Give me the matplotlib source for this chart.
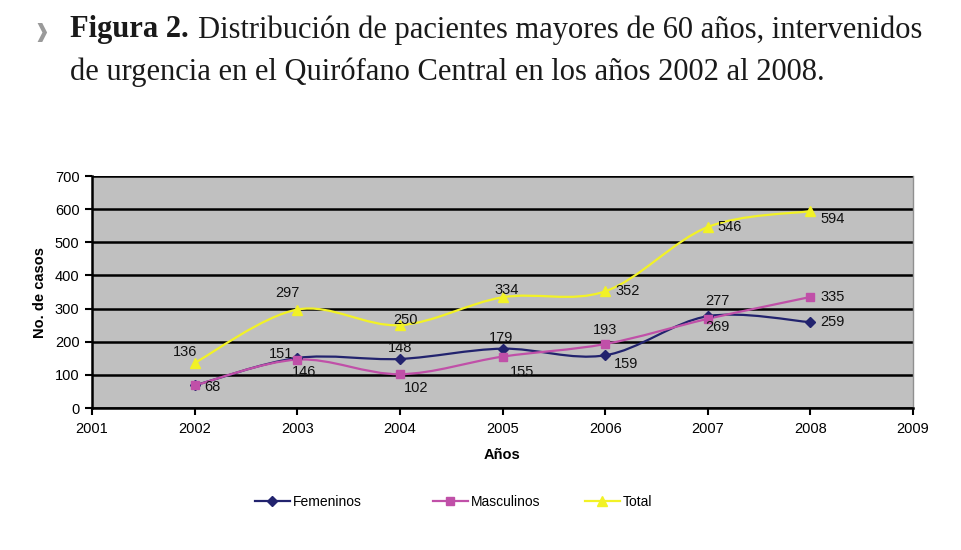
import matplotlib
matplotlib.use("Agg")
import matplotlib.pyplot as plt
from matplotlib.path import Path
from matplotlib.patches import PathPatch
from matplotlib.lines import Line2D
import numpy as np

years = [2002, 2003, 2004, 2005, 2006, 2007, 2008]
femeninos = [68, 151, 148, 179, 159, 277, 259]
masculinos = [68, 146, 102, 155, 193, 269, 335]
total = [136, 297, 250, 334, 352, 546, 594]
series_names = ["Femeninos", "Masculinos", "Total"]
yticks = [0, 100, 200, 300, 400, 500, 600, 700]
xticks = [2001, 2002, 2003, 2004, 2005, 2006, 2007, 2008, 2009]

# label offsets in points (dx, dy); None = no label
off_f = [None, (-12, 3), (0, 8), (-1, 8), (15, -6), (7, 11), (16, 0)]
off_m = [(13, -1), (5, -9), (12, -10), (14, -11), (0, 10), (7, -6), (16, 0)]
off_t = [(-7, 8), (-7, 12), (4, 4), (3, 5), (16, 0), (16, 0), (16, -6)]

C_F = "#22236e"
C_M = "#c050a8"
C_T = "#f2f226"

plt.rcParams["font.family"] = ["Liberation Sans", "DejaVu Sans"]

fig = plt.figure(figsize=(9.62, 5.5), dpi=100)
ax = fig.add_axes([92 / 962, 1 - 408 / 550, 821 / 962, 232 / 550])
ax.set_facecolor("#c0c0c0")


def smooth_path(xs, ys):
    pts = np.column_stack([xs, ys]).astype(float)
    n = len(pts)
    verts = [pts[0]]
    codes = [Path.MOVETO]
    for i in range(n - 1):
        p0 = pts[i - 1] if i > 0 else pts[i]
        p1 = pts[i]
        p2 = pts[i + 1]
        p3 = pts[i + 2] if i + 2 < n else pts[i + 1]
        c1 = p1 + (p2 - p0) / 6.0
        c2 = p2 - (p3 - p1) / 6.0
        verts += [c1, c2, p2]
        codes += [Path.CURVE4] * 3
    return Path(verts, codes)


styles = [(C_F, "D", 5), (C_M, "s", 6), (C_T, "^", 7)]
for vals, (col, mk, ms) in zip([femeninos, masculinos, total], styles):
    ax.add_patch(PathPatch(smooth_path(years, vals), fill=False, edgecolor=col, lw=1.6, zorder=3))
    ax.plot(years, vals, linestyle="none", marker=mk, color=col, markersize=ms, zorder=4)

for vals, offs in [(femeninos, off_f), (masculinos, off_m), (total, off_t)]:
    for x, v, o in zip(years, vals, offs):
        if o is None:
            continue
        ax.annotate(str(v), (x, v), xytext=o, textcoords="offset points",
                    ha="center", va="center", fontsize=10.5, color="#111111", zorder=5)

ax.set_xlim(2001, 2009)
ax.set_ylim(0, 700)
ax.set_xticks(xticks)
ax.set_xticklabels([str(t) for t in xticks])
ax.set_yticks(yticks)
ax.set_yticklabels([str(t) for t in yticks])
ax.yaxis.grid(True, color="black", lw=1.8)
ax.set_axisbelow(True)
ax.tick_params(axis="both", labelsize=10.5, length=5, width=1.5, direction="out", colors="black", pad=5)
ax.tick_params(axis="y", pad=4)
for s in ["left", "bottom"]:
    ax.spines[s].set_linewidth(1.8)
    ax.spines[s].set_color("black")
ax.spines["top"].set_visible(False)
ax.spines["right"].set_color("#909090")
ax.spines["right"].set_linewidth(1.0)

ax.set_xlabel("Años", fontsize=10.5, fontweight="bold", labelpad=9)
ax.set_ylabel("No. de casos", fontsize=10.5, fontweight="bold", labelpad=6)

# legend entries placed individually (uneven spacing as in original)
leg_x = [255, 433, 585]
for (col, mk, ms), name, lx in zip(styles, series_names, leg_x):
    h = Line2D([], [], color=col, marker=mk, markersize=ms, lw=1.6)
    fig.legend([h], [name], loc="center left", bbox_to_anchor=(lx / 962, 1 - 502 / 550),
               frameon=False, fontsize=10, handlelength=2.5, handletextpad=0.25,
               borderpad=0, borderaxespad=0)

# caption
fig.text(33 / 962, 1 - 32 / 550, "❱", fontsize=14, color="#9a9a9a", ha="left", va="center",
         family=["DejaVu Sans"])
t1 = fig.text(70 / 962, 1 - 30 / 550, "Figura 2.", fontsize=22, fontweight="bold",
              family=["Liberation Serif"], ha="left", va="center", color="#1a1a1a")
fig.canvas.draw()
bb = t1.get_window_extent(renderer=fig.canvas.get_renderer())
fig.text((bb.x1 + 9) / 962, 1 - 30 / 550,
         "Distribución de pacientes mayores de 60 años, intervenidos",
         fontsize=22, family=["Liberation Serif"], ha="left", va="center", color="#1a1a1a")
fig.text(70 / 962, 1 - 72 / 550, "de urgencia en el Quirófano Central en los años 2002 al 2008.",
         fontsize=22, family=["Liberation Serif"], ha="left", va="center", color="#1a1a1a")

fig.savefig("out.png", dpi=100)
